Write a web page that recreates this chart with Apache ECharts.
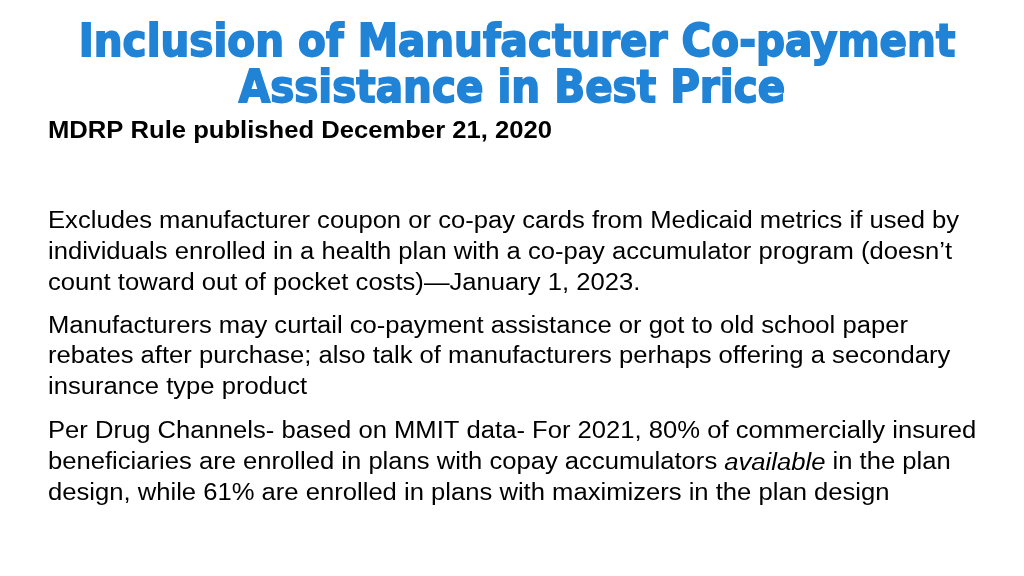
<!DOCTYPE html>
<html>
<head>
<meta charset="utf-8">
<script src="https://cdn.jsdelivr.net/npm/echarts@6/dist/echarts.min.js"></script>
<style>
html,body{margin:0;padding:0;background:#fff;}
#main{width:1024px;height:576px;}
</style>
</head>
<body>
<div id="main"></div>
<script>
const titleLines = ["Inclusion of Manufacturer Co-payment", "Assistance in Best Price"];
const subtitle = "MDRP Rule published December 21, 2020";
const para1 = [
  "Excludes manufacturer coupon or co-pay cards from Medicaid metrics if used by",
  "individuals enrolled in a health plan with a co-pay accumulator program (doesn\u2019t",
  "count toward out of pocket costs)\u2014January 1, 2023."
];
const para2 = [
  "Manufacturers may curtail co-payment assistance or got to old school paper",
  "rebates after purchase; also talk of manufacturers perhaps offering a secondary",
  "insurance type product"
];
const para3 = [
  "Per Drug Channels- based on MMIT data- For 2021, 80% of commercially insured",
  "beneficiaries are enrolled in plans with copay accumulators {i|available} in the plan",
  "design, while 61% are enrolled in plans with maximizers in the plan design"
];

const chart = echarts.init(document.getElementById('main'), null, {renderer: 'canvas'});
const elements = [];
const titleY = [44, 90];
const titleX = [517, 512];
titleLines.forEach((t, i) => {
  elements.push({
    type: 'text', x: titleX[i], y: titleY[i], scaleX: 0.9,
    style: {
      text: t, fill: '#2183d6', stroke: '#2183d6', lineWidth: 1.8,
      font: '900 45px "DejaVu Sans"', textAlign: 'center', textVerticalAlign: 'middle'
    }
  });
});
const stretch = 1.09;
elements.push({
  type: 'text', x: 48, y: 132, scaleX: stretch,
  style: {text: subtitle, fill: '#000', font: 'bold 23.5px "Liberation Sans"', textAlign: 'left', textVerticalAlign: 'middle'}
});
const bodyFont = '23.5px "Liberation Sans"';
const paras = [[para1, [222, 253, 284]], [para2, [327, 357, 388]], [para3, [432, 463, 494]]];
paras.forEach(([lines, ys]) => {
  lines.forEach((t, i) => {
    elements.push({
      type: 'text', x: 48, y: ys[i], scaleX: stretch,
      style: {
        text: t, fill: '#000', font: bodyFont, textAlign: 'left', textVerticalAlign: 'middle',
        rich: { i: { fontStyle: 'italic', fontSize: 23.5, fontFamily: 'Liberation Sans', fill: '#000' } }
      }
    });
  });
});
chart.setOption({ backgroundColor: '#fff', graphic: { elements } });
</script>
</body>
</html>
